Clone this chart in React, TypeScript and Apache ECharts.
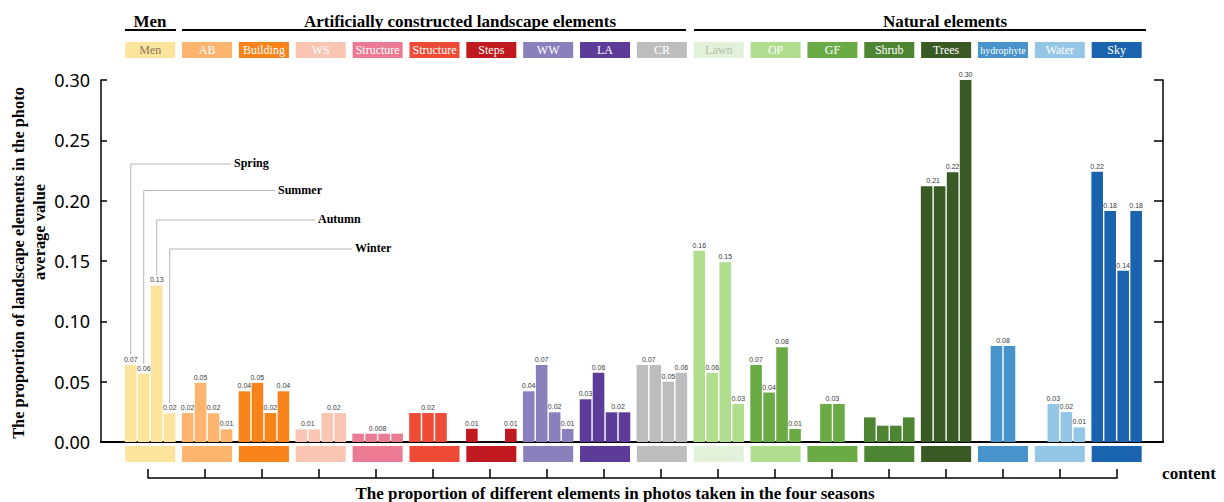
import React, { useEffect, useRef } from "react";
import * as echarts from "echarts";

const categories = ["Men", "AB", "Building", "WS", "Structure", "Structure", "Steps", "WW", "LA", "CR", "Lawn", "OP", "GF", "Shrub", "Trees", "hydrophyte", "Water", "Sky"];
const seasons = ["Spring", "Summer", "Autumn", "Winter"];

const springValues = [0.064, 0.024, 0.042, 0.0105, 0.0069, 0.024, 0.011, 0.042, 0.0354, 0.0638, 0.1585, 0.0638, 0, 0.0204, 0.212, 0, 0, 0.224];
const summerValues = [0.0566, 0.049, 0.049, 0.0105, 0.0069, 0.024, 0, 0.0638, 0.0574, 0.0638, 0.0574, 0.041, 0.0315, 0.0135, 0.212, 0.0795, 0.0315, 0.1915];
const autumnValues = [0.1297, 0.0238, 0.024, 0.024, 0.0069, 0.024, 0, 0.0246, 0.0246, 0.05, 0.149, 0.0785, 0.0315, 0.0135, 0.2235, 0.0795, 0.0248, 0.142];
const winterValues = [0.0238, 0.0105, 0.042, 0.024, 0.0069, 0, 0.011, 0.0108, 0.0246, 0.0574, 0.0315, 0.0108, 0, 0.0204, 0.3, 0, 0.0121, 0.1915];

const springLabels = ["0.07", "0.02", "0.04", "0.01", "", "", "0.01", "0.04", "0.03", "0.07", "0.16", "0.07", "", "", "0.21", "", "", "0.22"];
const summerLabels = ["0.06", "0.05", "0.05", "", "0.008", "0.02", "", "0.07", "0.06", "", "0.06", "0.04", "0.03", "", "", "0.08", "0.03", "0.18"];
const autumnLabels = ["0.13", "0.02", "0.02", "0.02", "", "", "", "0.02", "0.02", "0.05", "0.15", "0.08", "", "", "0.22", "", "0.02", "0.14"];
const winterLabels = ["0.02", "0.01", "0.04", "", "", "", "0.01", "0.01", "", "0.06", "0.03", "0.01", "", "", "0.30", "", "0.01", "0.18"];

// labels that sit centred between this bar and the next one: [seasonIndex, categoryIndex]
const centredLabels = [[0, 3], [2, 3], [1, 4], [2, 8], [0, 9], [1, 12], [0, 14], [1, 15]];

const boxColors = ["#FDE49C", "#FCB46E", "#F8831A", "#FAC6B3", "#EC7A92", "#EE4B36", "#C01A20", "#8A80BE", "#5D3B98", "#BDBDBD", "#E3F0DA", "#B1DD8F", "#6AAB45", "#4E8533", "#3A5A25", "#4893CB", "#96C6E6", "#1A63AE"];
const barColors = ["#FDE49C", "#FCB46E", "#F8831A", "#FAC6B3", "#EC7A92", "#EE4B36", "#C01A20", "#8A80BE", "#5D3B98", "#BDBDBD", "#B1DD8F", "#6AAB45", "#6AAB45", "#4E8533", "#3A5A25", "#4893CB", "#96C6E6", "#1A63AE"];
const boxTextColors = ["#8a7d5b", "#fff", "#fff", "#fff", "#fff", "#fff", "#fff", "#fff", "#fff", "#fff", "#b3bfae", "#fff", "#fff", "#fff", "#fff", "#fff", "#fff", "#fff"];

const groupHeaders = [
  { text: "Men", x: 150, x1: 125, x2: 176 },
  { text: "Artificially constructed landscape elements", x: 460, x1: 182, x2: 686 },
  { text: "Natural elements", x: 945, x1: 694, x2: 1146 },
];

const seasonAnnotTopY = [164, 190.5, 220, 249];
const seasonAnnotEndX = [231, 275, 315, 352];

const allValues = [springValues, summerValues, autumnValues, winterValues];
const allLabels = [springLabels, summerLabels, autumnLabels, winterLabels];

const BAR_W = 11.6;
const BAR_GAP = 0.12;
const STEP = BAR_W * (1 + BAR_GAP);

const serif = "Liberation Serif";

export default function App() {
  const ref = useRef<HTMLDivElement>(null);

  useEffect(() => {
    if (!ref.current) return;
    const chart = echarts.init(ref.current, undefined, { renderer: "svg" });

    const topRich: any = {};
    const botRich: any = {};
    categories.forEach((c, i) => {
      topRich["t" + i] = {
        backgroundColor: boxColors[i],
        color: boxTextColors[i],
        width: 50,
        height: 16,
        lineHeight: 16,
        align: "center",
        fontFamily: serif,
        fontSize: c === "hydrophyte" ? 10 : 12,
      };
      botRich["b" + i] = {
        backgroundColor: boxColors[i],
        width: 50,
        height: 16,
        lineHeight: 16,
      };
    });

    const isCentred = (s: number, i: number) => centredLabels.some(([a, b]) => a === s && b === i);
    const labelStyle = {
      position: "top", distance: 2, fontSize: 7, color: "#3a3a3a", fontFamily: "Liberation Sans",
      textBorderWidth: 0, textBorderColor: "transparent", textShadowBlur: 0,
    };

    const series = seasons.map((name, s) => ({
      type: "bar",
      name,
      xAxisIndex: 1,
      yAxisIndex: 2,
      barWidth: BAR_W,
      barGap: BAR_GAP * 100 + "%",
      label: labelStyle,
      data: allValues[s].map((v, i) => ({
        value: v,
        itemStyle: { color: barColors[i] },
        label: allLabels[s][i]
          ? { ...labelStyle, show: true, formatter: allLabels[s][i], offset: [isCentred(s, i) ? STEP / 2 : 0, 0] }
          : { show: false },
      })),
    }));

    const option: any = {
      animation: false,
      grid: [
        { left: 101, right: 61, top: 80, bottom: 60 },
        { left: 121.8, right: 78.9, top: 80, bottom: 60 },
        { left: 148, right: 107, top: 400, bottom: 24 },
      ],
      xAxis: [
        {
          gridIndex: 0, type: "value", min: 0, max: 1,
          axisLine: { show: true, lineStyle: { color: "#000", width: 2 } },
          axisTick: { show: false }, axisLabel: { show: false }, splitLine: { show: false },
        },
        {
          gridIndex: 1, type: "category", data: categories, position: "bottom",
          axisLine: { show: false }, axisTick: { show: false },
          axisLabel: { interval: 0, margin: 4, formatter: (_v: string, i: number) => `{b${i}| }`, rich: botRich },
        },
        {
          gridIndex: 1, type: "category", data: categories, position: "top",
          axisLine: { show: false }, axisTick: { show: false },
          axisLabel: { interval: 0, margin: 22, formatter: (v: string, i: number) => `{t${i}|${v}}`, rich: topRich },
        },
        {
          gridIndex: 2, type: "category", data: categories, position: "bottom", boundaryGap: false,
          axisLine: { show: true, lineStyle: { color: "#000", width: 1.5 } },
          axisTick: { show: true, inside: true, interval: 0, length: 9, lineStyle: { color: "#000", width: 1.5 } },
          axisLabel: { show: false },
        },
      ],
      yAxis: [
        {
          gridIndex: 0, type: "value", min: 0, max: 0.3, interval: 0.05, position: "left",
          axisLine: { show: true, lineStyle: { color: "#000", width: 1.5 } },
          axisTick: { show: true, inside: true, length: 6, lineStyle: { color: "#000", width: 1.5 } },
          axisLabel: { margin: 11, fontSize: 18, fontFamily: "Noto Sans", color: "#000", formatter: (v: number) => v.toFixed(2) },
          splitLine: { show: false },
        },
        {
          gridIndex: 0, type: "value", min: 0, max: 0.3, interval: 0.05, position: "right",
          axisLine: { show: true, lineStyle: { color: "#000", width: 1.5 } },
          axisTick: { show: true, inside: true, length: 9, lineStyle: { color: "#000", width: 1.5 } },
          axisLabel: { show: false }, splitLine: { show: false },
        },
        { gridIndex: 1, type: "value", min: 0, max: 0.3, show: false },
        { gridIndex: 2, type: "value", min: 0, max: 1, show: false },
      ],
      series,
    };
    chart.setOption(option);

    const graphics: any[] = [];
    groupHeaders.forEach((h) => {
      graphics.push({
        type: "text", x: h.x, y: 21,
        style: { text: h.text, fontFamily: serif, fontWeight: "bold", fontSize: 17, fill: "#000", align: "center", verticalAlign: "middle" },
      });
      graphics.push({ type: "line", shape: { x1: h.x1, y1: 30, x2: h.x2, y2: 30 }, style: { stroke: "#000", lineWidth: 2 } });
    });
    graphics.push({
      type: "text", x: 18, y: 263, rotation: Math.PI / 2,
      style: { text: "The proportion of landscape elements in the photo", fontFamily: serif, fontWeight: "bold", fontSize: 16.4, fill: "#000", align: "center", verticalAlign: "middle" },
    });
    graphics.push({
      type: "text", x: 39, y: 232, rotation: Math.PI / 2,
      style: { text: "average value", fontFamily: serif, fontWeight: "bold", fontSize: 16.4, fill: "#000", align: "center", verticalAlign: "middle" },
    });
    graphics.push({
      type: "text", x: 615, y: 493,
      style: { text: "The proportion of different elements in photos taken in the four seasons", fontFamily: serif, fontWeight: "bold", fontSize: 17, fill: "#000", align: "center", verticalAlign: "middle" },
    });
    graphics.push({
      type: "text", x: 1189, y: 473,
      style: { text: "content", fontFamily: serif, fontWeight: "bold", fontSize: 17, fill: "#000", align: "center", verticalAlign: "middle" },
    });

    const cx0 = chart.convertToPixel({ xAxisIndex: 1 }, categories[0]) as number;
    seasons.forEach((name, s) => {
      const bx = cx0 + (s - 1.5) * STEP;
      const by = chart.convertToPixel({ yAxisIndex: 2 }, allValues[s][0]) as number;
      graphics.push({
        type: "polyline",
        shape: { points: [[bx, by - 10], [bx, seasonAnnotTopY[s]], [seasonAnnotEndX[s], seasonAnnotTopY[s]]] },
        style: { stroke: "#b5b5b5", lineWidth: 1, fill: null },
      });
      graphics.push({
        type: "text", x: seasonAnnotEndX[s] + 3, y: seasonAnnotTopY[s] - 1,
        style: { text: name, fontFamily: serif, fontWeight: "bold", fontSize: 12, fill: "#000", align: "left", verticalAlign: "middle" },
      });
    });

    chart.setOption({ graphic: graphics });

    return () => chart.dispose();
  }, []);

  return <div ref={ref} style={{ position: "absolute", left: 0, top: 0, width: 1224, height: 502 }} />;
}
